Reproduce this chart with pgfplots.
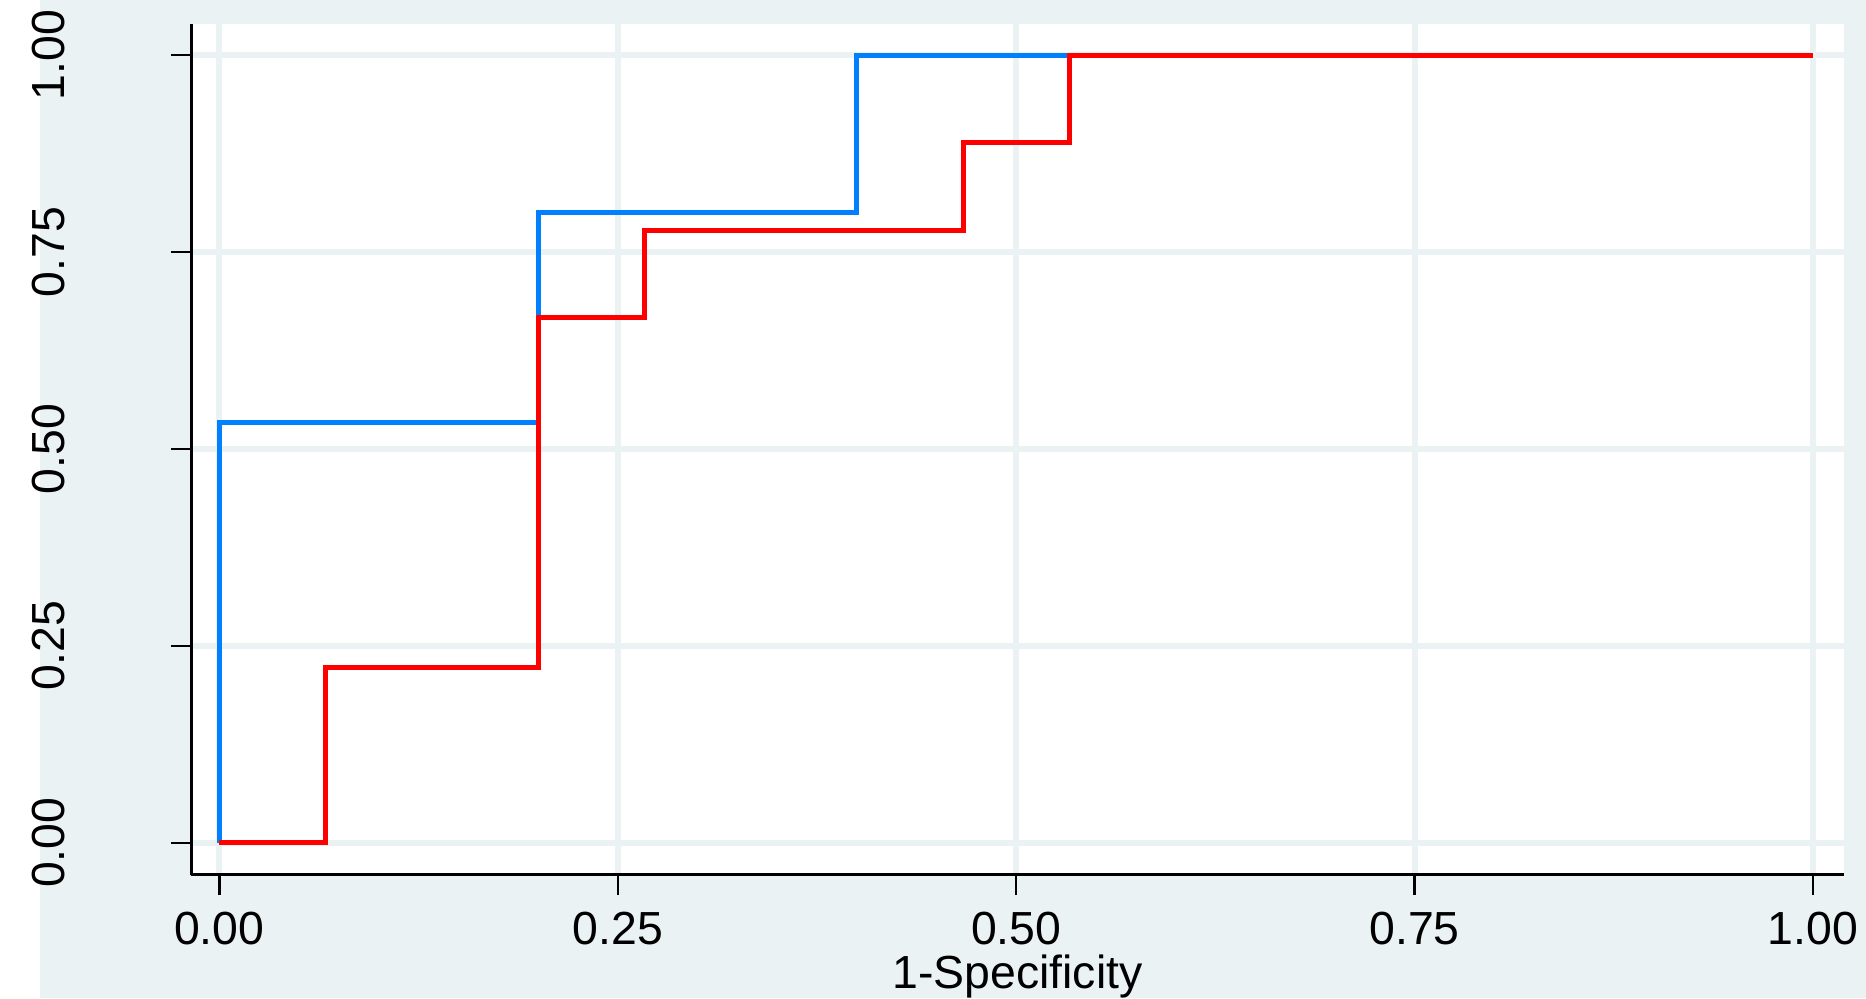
\documentclass[border=0pt]{standalone}
\usepackage{fontspec}
\setmainfont{Liberation Sans}
\usepackage{pgfplots}
\pgfplotsset{compat=1.18}

\definecolor{bggray}{RGB}{234,242,243}
\definecolor{rocblue}{RGB}{0,128,255}
\definecolor{rocred}{RGB}{255,0,0}

\begin{document}
\fontsize{11.6pt}{13.9pt}\selectfont
\begin{tikzpicture}
% page: 466.5pt x 249.5pt
\useasboundingbox (0,0) rectangle (466.5pt,249.5pt);
\fill[white] (0,0) rectangle (10pt,249.5pt);
\fill[bggray] (10pt,0) rectangle (466.5pt,249.5pt);
\begin{axis}[
  at={(47.75pt,30.75pt)}, anchor=south west,
  scale only axis,
  width=413.25pt, height=212.75pt,
  xmin=-0.01776, xmax=1.01945,
  ymin=-0.0410, ymax=1.0394,
  axis background/.style={fill=white},
  axis x line*=bottom, axis y line*=left,
  axis line style={line width=0.75pt, black},
  every tick/.style={black, line width=0.6pt},
  tick align=outside,
  major tick length=5pt,
  xtick={0,0.25,0.5,0.75,1},
  ytick={0,0.25,0.5,0.75,1},
  xticklabels={0.00,0.25,0.50,0.75,1.00},
  yticklabels={0.00,0.25,0.50,0.75,1.00},
  /pgf/number format/assume math mode=true,
  grid=major,
  major grid style={bggray, line width=1.5pt},
  xticklabel style={anchor=base, yshift=-12.25pt},
  yticklabel style={xshift=-26.5pt, rotate=90, anchor=base},
  xlabel={1-Specificity},
  xlabel style={at={(axis description cs:0.5,0)}, anchor=base, yshift=-28.25pt},
  clip=false,
]
% first curve
\addplot[rocblue, line width=1.25pt, const plot, line join=miter] coordinates {
  (0,0) (0,0.5333) (0.2,0.8) (0.4,1) (1,1)
};
% second curve
\addplot[rocred, line width=1.25pt, const plot, line join=miter] coordinates {
  (0,0) (0.0667,0.2222) (0.2,0.6667) (0.2667,0.7778) (0.4667,0.8889) (0.5333,1) (1,1)
};
\end{axis}
\end{tikzpicture}
\end{document}
